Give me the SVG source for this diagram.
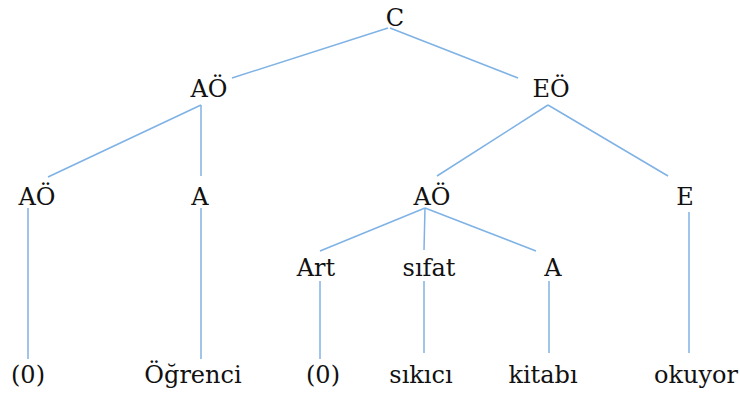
<svg xmlns="http://www.w3.org/2000/svg" width="740" height="398" viewBox="0 0 740 398">
  <style>
    .lbl { font-family: "DejaVu Serif", "Liberation Serif", serif; font-size: 24px; fill: #111; text-anchor: middle; }
    .edge { stroke: #7fb2e5; stroke-width: 1.5; fill: none; }
  </style>
  <rect width="740" height="398" fill="#ffffff"/>
  <!-- tree edges -->
  <g id="connectors">
    <line class="edge" x1="388" y1="28" x2="232" y2="78"/>
    <line class="edge" x1="390" y1="28" x2="518" y2="78"/>
    <line class="edge" x1="201" y1="105" x2="48" y2="177"/>
    <line class="edge" x1="201" y1="105" x2="201" y2="176"/>
    <line class="edge" x1="548" y1="105" x2="437" y2="176"/>
    <line class="edge" x1="548" y1="105" x2="668" y2="176"/>
    <line class="edge" x1="425" y1="208" x2="320" y2="251"/>
    <line class="edge" x1="425" y1="208" x2="424" y2="250"/>
    <line class="edge" x1="425" y1="208" x2="536" y2="251"/>
    <line class="edge" x1="28" y1="208" x2="28" y2="359"/>
    <line class="edge" x1="201" y1="208" x2="201" y2="359"/>
    <line class="edge" x1="320" y1="281" x2="320" y2="359"/>
    <line class="edge" x1="424" y1="281" x2="424" y2="353"/>
    <line class="edge" x1="549" y1="281" x2="549" y2="353"/>
    <line class="edge" x1="689" y1="212" x2="689" y2="353"/>
  </g>
  <!-- tree nodes -->
  <g id="n-c"><text class="lbl" x="395" y="26">C</text></g>
  <g id="n-ao1"><text class="lbl" x="209" y="97">AÖ</text></g>
  <g id="n-eo"><text class="lbl" x="551" y="97">EÖ</text></g>
  <g id="n-ao2"><text class="lbl" x="37" y="205">AÖ</text></g>
  <g id="n-a1"><text class="lbl" x="200" y="205">A</text></g>
  <g id="n-ao3"><text class="lbl" x="432" y="205">AÖ</text></g>
  <g id="n-e"><text class="lbl" x="685" y="205">E</text></g>
  <g id="n-art"><text class="lbl" x="316" y="276">Art</text></g>
  <g id="n-sifat"><text class="lbl" x="429" y="276">sıfat</text></g>
  <g id="n-a2"><text class="lbl" x="553" y="276">A</text></g>
  <g id="n-zero1"><text class="lbl" x="28" y="383">(0)</text></g>
  <g id="n-ogrenci"><text class="lbl" x="193" y="383">Öğrenci</text></g>
  <g id="n-zero2"><text class="lbl" x="323" y="383">(0)</text></g>
  <g id="n-sikici"><text class="lbl" x="421" y="383">sıkıcı</text></g>
  <g id="n-kitabi"><text class="lbl" x="543" y="383">kitabı</text></g>
  <g id="n-okuyor"><text class="lbl" x="696" y="383">okuyor</text></g>
</svg>
